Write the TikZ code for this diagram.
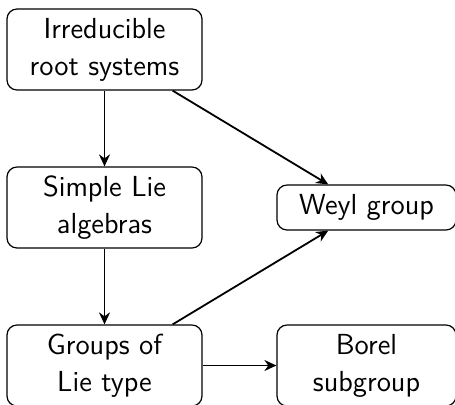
\documentclass[tikz,border=0pt]{standalone}
\usetikzlibrary{arrows.meta}
\begin{document}
\begin{tikzpicture}[x=1pt,y=-1pt,
  box/.style={draw, line width=0.6pt, rounded corners=5pt, align=center,
    font=\sffamily\fontsize{14.5}{18.5}\selectfont, inner sep=0pt},
  big/.style={box, minimum width=97.5pt, minimum height=40.5pt},
  small/.style={box, minimum width=89.5pt, minimum height=22.5pt},
  arr/.style={-{Stealth[length=6pt,width=5.5pt]}, line width=0.9pt}]
\useasboundingbox (0,0) rectangle (227.5,202);
\node[big] (irr) at (52.25,24.75) {Irreducible\\root systems};
\node[big] (sla) at (52.25,103.75) {Simple Lie\\algebras};
\node[big] (glt) at (52.25,182.75) {Groups of\\Lie type};
\node[small] (weyl) at (183.25,103.75) {Weyl group};
\node[big, minimum width=89.5pt] (borel) at (183.25,182.75) {Borel\\subgroup};
\draw[arr] (irr) -- (sla);
\draw[arr] (sla) -- (glt);
\draw[arr] (irr) -- (weyl);
\draw[arr] (glt) -- (weyl);
\draw[arr] (glt) -- (borel);
\end{tikzpicture}
\end{document}
